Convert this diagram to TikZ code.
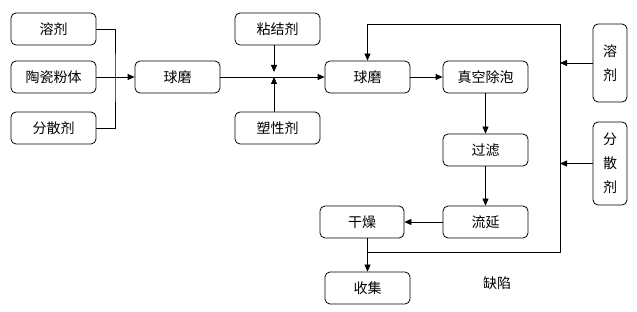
\documentclass[tikz,border=0pt]{standalone}
\usepackage{fontspec}
\setmainfont{Noto Sans CJK SC}
\usetikzlibrary{arrows.meta}
\begin{document}
\begin{tikzpicture}[x=1pt, y=-1pt, >={Triangle[length=7pt,width=6pt]}, line join=round, line width=0.8pt,
	box/.style={draw, rounded corners=5pt, minimum width=85pt, minimum height=32pt, inner sep=0pt, font=\fontsize{14}{16}\selectfont},
	vbox/.style={draw, rounded corners=5pt, minimum width=34pt, inner sep=0pt, align=center, font=\fontsize{14}{24}\selectfont}]
	\useasboundingbox (0,0) rectangle (637,312);
	% left column
	\node[box] (solvent) at (53.5,29) {溶剂};
	\node[box] (powder) at (53.5,77) {陶瓷粉体};
	\node[box] (disp) at (53.5,128) {分散剂};
	\node[box] (mill1) at (177.5,77) {球磨};
	\node[box] (binder) at (277.5,29) {粘结剂};
	\node[box] (plast) at (277.5,128) {塑性剂};
	\node[box] (mill2) at (367.5,77) {球磨};
	\node[box] (degas) at (485.5,77) {真空除泡};
	\node[box] (filter) at (485.5,150) {过滤};
	\node[box] (cast) at (485.5,222) {流延};
	\node[box, minimum width=84pt] (dry) at (362,222) {干燥};
	\node[box] (collect) at (367.5,288) {收集};
	\node[font=\fontsize{14}{16}\selectfont] (defect) at (497,283) {缺陷};
	% right column
	\node[vbox, minimum height=78pt] (solvent2) at (610,63) {溶\\剂};
	\node[vbox, minimum height=83pt] (disp2) at (610,163.5) {分\\散\\剂};
	\coordinate (bus) at (115,77);
	\coordinate (join) at (274,77);
	\coordinate (top) at (560,24);
	\coordinate (bot) at (560,252);
	% connectors
	\draw (solvent) -| (bus) |- (disp);
	\draw[->] (powder) -- (mill1);
	\draw[->] (mill1) -- (mill2);
	\draw[->, shorten >=5pt] (binder.south -| join) -- (join);
	\draw[->] (plast.north -| join) -- (join);
	\draw[->] (mill2) -- (degas);
	\draw[->] (degas) -- (filter);
	\draw[->] (filter) -- (cast);
	\draw[->] (cast) -- (dry);
	\draw[->] (dry.south -| collect) -- (collect);
	\draw[->] (bot -| collect) -- (bot) -- (top) -| (mill2);
	\draw[->] (solvent2.west) -- (solvent2.west -| top);
	\draw[->] (disp2.west) -- (disp2.west -| top);
\end{tikzpicture}
\end{document}
